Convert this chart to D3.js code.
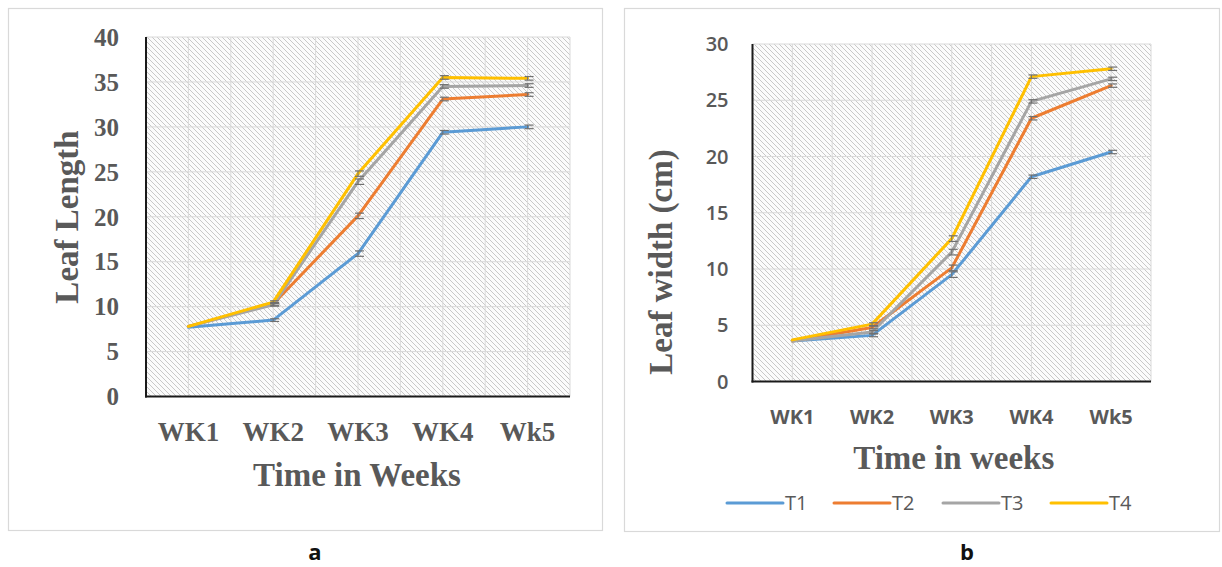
<!DOCTYPE html>
<html>
<head>
<meta charset="utf-8">
<script src="https://cdn.jsdelivr.net/npm/d3@7"></script>
<style>
html,body{margin:0;padding:0;background:#fff;}
svg{display:block;}
</style>
</head>
<body>
<svg id="chart" width="1222" height="567"></svg>
<script>
// ---- data ----
const weeks = ["WK1", "WK2", "WK3", "WK4", "Wk5"];
const seriesNames = ["T1", "T2", "T3", "T4"];
const seriesColors = ["#5B9BD5", "#ED7D31", "#A5A5A5", "#FFC000"];

// Panel a: Leaf Length
const lengthT1 = [7.7, 8.5, 15.9, 29.4, 30.0];
const lengthT2 = [7.8, 10.3, 20.1, 33.1, 33.6];
const lengthT3 = [7.8, 10.2, 23.9, 34.5, 34.6];
const lengthT4 = [7.8, 10.5, 24.8, 35.5, 35.4];
const lengthErr = [0.1, 0.15, 0.3, 0.2, 0.2];
const lengthTicks = [0, 5, 10, 15, 20, 25, 30, 35, 40];

// Panel b: Leaf width (cm)
const widthT1 = [3.6, 4.1, 9.5, 18.2, 20.4];
const widthT2 = [3.6, 4.8, 10.1, 23.4, 26.3];
const widthT3 = [3.6, 4.4, 11.5, 24.9, 26.9];
const widthT4 = [3.7, 5.1, 12.7, 27.1, 27.8];
const widthErr = [0.1, 0.12, 0.25, 0.15, 0.15];
const widthTicks = [0, 5, 10, 15, 20, 25, 30];

const svg = d3.select("#chart");
const defs = svg.append("defs");
const pat = defs.append("pattern")
  .attr("id", "hatch").attr("patternUnits", "userSpaceOnUse")
  .attr("width", 5).attr("height", 5);
pat.append("rect").attr("width", 5).attr("height", 5).attr("fill", "#fbfbfb");
[[0,0,5,5],[-1,4,1,6],[4,-1,6,1]].forEach(d => {
  pat.append("line").attr("x1", d[0]).attr("y1", d[1]).attr("x2", d[2]).attr("y2", d[3])
    .attr("stroke", "#c8c8c8").attr("stroke-width", 1);
});

function panel(cfg) {
  const g = svg.append("g");
  g.append("rect").attr("x", cfg.box[0] + 0.5).attr("y", cfg.box[1] + 0.5)
    .attr("width", cfg.box[2]).attr("height", cfg.box[3])
    .attr("fill", "#fff").attr("stroke", "#d9d9d9").attr("stroke-width", 1.2);

  const x = d3.scaleBand().domain(weeks).range([cfg.plot[0], cfg.plot[1]]);
  const y = d3.scaleLinear().domain([0, cfg.ymax]).range([cfg.plot[3], cfg.plot[2]]);
  const cx = d => x(d) + x.bandwidth() / 2;

  g.append("rect").attr("x", cfg.plot[0]).attr("y", cfg.plot[2])
    .attr("width", cfg.plot[1] - cfg.plot[0]).attr("height", cfg.plot[3] - cfg.plot[2])
    .attr("fill", "url(#hatch)");

  g.append("g").selectAll("line").data(cfg.ticks).join("line")
    .attr("x1", cfg.plot[0]).attr("x2", cfg.plot[1])
    .attr("y1", d => y(d)).attr("y2", d => y(d))
    .attr("stroke", "#d9d9d9").attr("stroke-width", 1);
  const vpos = [];
  weeks.forEach(w => { vpos.push(cx(w)); vpos.push(x(w) + x.bandwidth()); });
  g.append("g").selectAll("line").data(vpos).join("line")
    .attr("x1", d => d).attr("x2", d => d)
    .attr("y1", cfg.plot[2]).attr("y2", cfg.plot[3])
    .attr("stroke", "#d9d9d9").attr("stroke-width", 1);

  g.append("g").selectAll("text").data(cfg.ticks).join("text")
    .attr("x", cfg.plot[0] - cfg.yLabelGap).attr("y", d => y(d))
    .attr("dy", "0.35em").attr("text-anchor", "end")
    .attr("font-family", cfg.tickFont).attr("font-weight", cfg.tickWeight)
    .attr("font-size", cfg.tickSize).attr("fill", "#595959")
    .text(d => d);

  g.append("g").selectAll("text").data(weeks).join("text")
    .attr("x", d => cx(d)).attr("y", cfg.xLabelY).attr("text-anchor", "middle")
    .attr("font-family", cfg.tickFont).attr("font-weight", "bold")
    .attr("font-size", cfg.xTickSize).attr("fill", "#595959")
    .text(d => d);

  const line = d3.line().x((d, i) => cx(weeks[i])).y(d => y(d));
  cfg.series.forEach((vals, si) => {
    g.append("path").datum(vals).attr("d", line)
      .attr("fill", "none").attr("stroke", seriesColors[si])
      .attr("stroke-width", 3).attr("stroke-linejoin", "round").attr("stroke-linecap", "round");
  });
  cfg.series.forEach((vals) => {
    const eg = g.append("g");
    vals.forEach((v, i) => {
      if (i === 0) return;
      const e = cfg.err[i];
      const xc = cx(weeks[i]);
      eg.append("line").attr("x1", xc).attr("x2", xc)
        .attr("y1", y(v - e)).attr("y2", y(v + e))
        .attr("stroke", "#707070").attr("stroke-width", 1);
      [v - e, v + e].forEach(b => {
        eg.append("line").attr("x1", xc - 3).attr("x2", xc + 6)
          .attr("y1", y(b)).attr("y2", y(b))
          .attr("stroke", "#707070").attr("stroke-width", 1.2);
      });
    });
  });

  g.append("line").attr("x1", cfg.plot[0]).attr("x2", cfg.plot[0])
    .attr("y1", cfg.plot[2]).attr("y2", cfg.plot[3] + 1)
    .attr("stroke", "#1a1a1a").attr("stroke-width", 2);
  g.append("line").attr("x1", cfg.plot[0] - 1).attr("x2", cfg.plot[1])
    .attr("y1", cfg.plot[3]).attr("y2", cfg.plot[3])
    .attr("stroke", "#1a1a1a").attr("stroke-width", 2);

  g.append("text").attr("x", (cfg.plot[0] + cfg.plot[1]) / 2 + cfg.xTitleDx).attr("y", cfg.xTitleY)
    .attr("text-anchor", "middle").attr("font-family", "'Liberation Serif', 'Times New Roman', serif")
    .attr("font-weight", "bold").attr("font-size", 33).attr("fill", "#595959")
    .text(cfg.xTitle);
  g.append("text").attr("transform", `translate(${cfg.yTitleX},${cfg.yTitleY}) rotate(-90)`)
    .attr("text-anchor", "middle").attr("dy", "0.35em")
    .attr("font-family", "'Liberation Serif', 'Times New Roman', serif")
    .attr("font-weight", "bold").attr("font-size", 33).attr("fill", "#595959")
    .text(cfg.yTitle);

  g.append("text").attr("x", cfg.letterX).attr("y", 560).attr("text-anchor", "middle")
    .attr("font-family", "'Open Sans', 'DejaVu Sans', sans-serif").attr("font-weight", "bold")
    .attr("font-size", 22).attr("fill", "#111").text(cfg.letter);

  return { g, x, y };
}

panel({
  box: [8, 8, 594, 522],
  plot: [146, 570, 37, 396.5],
  ymax: 40, ticks: lengthTicks,
  series: [lengthT1, lengthT2, lengthT3, lengthT4], err: lengthErr,
  tickFont: "'Liberation Serif', 'Times New Roman', serif", tickWeight: "bold",
  tickSize: 25, xTickSize: 27, yLabelGap: 27, xLabelY: 441,
  xTitle: "Time in Weeks", xTitleY: 486, xTitleDx: -1,
  yTitle: "Leaf Length", yTitleX: 66, yTitleY: 217,
  letter: "a", letterX: 315
});

const pb = panel({
  box: [624, 8, 595, 523],
  plot: [752.5, 1151, 44, 381.5],
  ymax: 30, ticks: widthTicks,
  series: [widthT1, widthT2, widthT3, widthT4], err: widthErr,
  tickFont: "'Open Sans', 'Noto Sans', sans-serif", tickWeight: "600",
  tickSize: 20, xTickSize: 20, yLabelGap: 24, xLabelY: 424,
  xTitle: "Time in weeks", xTitleY: 469, xTitleDx: 2,
  yTitle: "Leaf width (cm)", yTitleX: 660, yTitleY: 262,
  letter: "b", letterX: 967
});

const legendX = [727, 834, 943, 1051];
const lg = pb.g.append("g");
seriesNames.forEach((n, i) => {
  lg.append("line").attr("x1", legendX[i]).attr("x2", legendX[i] + 56)
    .attr("y1", 503).attr("y2", 503)
    .attr("stroke", seriesColors[i]).attr("stroke-width", 3).attr("stroke-linecap", "round");
  lg.append("text").attr("x", legendX[i] + 58).attr("y", 503).attr("dy", "0.35em")
    .attr("font-family", "'Open Sans', 'Noto Sans', sans-serif").attr("font-size", 20)
    .attr("fill", "#595959").text(n);
});
</script>
</body>
</html>
